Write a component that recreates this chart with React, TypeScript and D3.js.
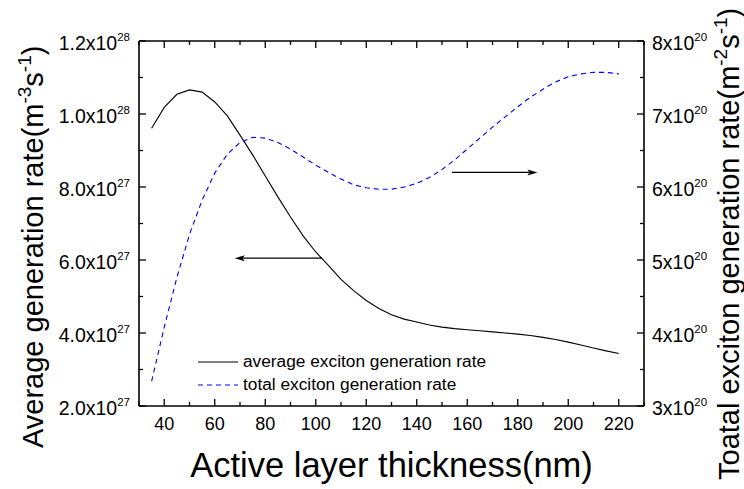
import React from "react";
import * as d3 from "d3";

const thickness = [35, 40, 45, 50, 55, 60, 65, 70, 75, 80, 85, 90, 95, 100, 105, 110, 115, 120, 125, 130, 135, 140, 145, 150, 155, 160, 165, 170, 175, 180, 185, 190, 195, 200, 205, 210, 215, 220];
// average exciton generation rate, units of 1e27 m^-3 s^-1
const avgRate = [9.61, 10.18, 10.54, 10.66, 10.6, 10.33, 9.95, 9.42, 8.88, 8.3, 7.73, 7.18, 6.66, 6.22, 5.85, 5.47, 5.16, 4.89, 4.67, 4.5, 4.38, 4.3, 4.22, 4.16, 4.12, 4.09, 4.06, 4.03, 4.0, 3.97, 3.93, 3.88, 3.82, 3.75, 3.67, 3.59, 3.51, 3.44];
// total exciton generation rate, units of 1e20 m^-2 s^-1
const totalRate = [3.34, 4.08, 4.76, 5.35, 5.82, 6.19, 6.45, 6.61, 6.68, 6.67, 6.61, 6.52, 6.41, 6.3, 6.2, 6.11, 6.03, 5.99, 5.97, 5.97, 6.0, 6.05, 6.13, 6.24, 6.37, 6.52, 6.67, 6.82, 6.96, 7.1, 7.23, 7.34, 7.44, 7.51, 7.55, 7.57, 7.57, 7.55];

const xDomain = [30, 230];
const xMajorTicks = [40, 60, 80, 100, 120, 140, 160, 180, 200, 220];
const xMinorTicks = [30, 50, 70, 90, 110, 130, 150, 170, 190, 210, 230];
const leftDomain = [2, 12];
const leftMajorTicks = [2, 4, 6, 8, 10, 12];
const leftMinorTicks = [3, 5, 7, 9, 11];
const leftTickLabels = ["2.0x10", "4.0x10", "6.0x10", "8.0x10", "1.0x10", "1.2x10"];
const leftTickExps = ["27", "27", "27", "27", "28", "28"];
const rightDomain = [3, 8];
const rightMajorTicks = [3, 4, 5, 6, 7, 8];
const rightMinorTicks = [3.5, 4.5, 5.5, 6.5, 7.5];
const rightTickLabels = ["3x10", "4x10", "5x10", "6x10", "7x10", "8x10"];
const rightTickExps = ["20", "20", "20", "20", "20", "20"];
const legendLabels = ["average exciton generation rate", "total exciton generation rate"];
// annotation arrows in data coordinates
const leftArrow = { from: 102.5, to: 67.9, y: 6.05 };
const rightArrow = { from: 153.9, to: 187.8, y: 6.2 };

const FONT = "'Liberation Sans', Arial, Helvetica, sans-serif";

export default function App() {
  const W = 744, H = 489;
  const L = 139, R = 644, T = 41, B = 406;
  const x = d3.scaleLinear().domain(xDomain).range([L, R]);
  const yL = d3.scaleLinear().domain(leftDomain).range([B, T]);
  const yR = d3.scaleLinear().domain(rightDomain).range([B, T]);

  const avgLine = d3.line<number>().x((_, i) => x(thickness[i])).y((d) => yL(d))(avgRate) || "";
  const totLine = d3.line<number>().x((_, i) => x(thickness[i])).y((d) => yR(d))(totalRate) || "";

  const MAJ = 7, MIN = 4;
  const axisW = 1.6;

  const arrowHead = (tipX: number, tipY: number, dir: number) => {
    const len = 10, hw = 3;
    return `M${tipX},${tipY} L${tipX - dir * len},${tipY - hw} L${tipX - dir * len * 0.8},${tipY} L${tipX - dir * len},${tipY + hw} Z`;
  };

  const la = { x1: x(leftArrow.from), x2: x(leftArrow.to), y: yL(leftArrow.y) };
  const ra = { x1: x(rightArrow.from), x2: x(rightArrow.to), y: yR(rightArrow.y) };

  return (
    <svg width={W} height={H} style={{ position: "absolute", left: 0, top: 0, background: "#fff" }} fontFamily={FONT}>
      <rect x={0} y={0} width={W} height={H} fill="#fff" />
      {/* curves */}
      <path d={avgLine} fill="none" stroke="#000" strokeWidth={1.1} />
      <path d={totLine} fill="none" stroke="#0000ff" strokeWidth={1.1} strokeDasharray="5,4" />

      {/* frame */}
      <g stroke="#000" strokeWidth={axisW} fill="none">
        <line x1={L} y1={B} x2={R} y2={B} />
        <line x1={L} y1={T} x2={R} y2={T} />
        <line x1={L} y1={T} x2={L} y2={B} />
        <line x1={R} y1={T} x2={R} y2={B} />
      </g>
      {/* x ticks bottom & top */}
      <g stroke="#000" strokeWidth={1.3}>
        {xMajorTicks.map((t) => (
          <g key={"xm" + t}>
            <line x1={x(t)} x2={x(t)} y1={B} y2={B - MAJ} />
            <line x1={x(t)} x2={x(t)} y1={T} y2={T + MAJ} />
          </g>
        ))}
        {xMinorTicks.map((t) => (
          <g key={"xn" + t}>
            <line x1={x(t)} x2={x(t)} y1={B} y2={B - MIN} />
            <line x1={x(t)} x2={x(t)} y1={T} y2={T + MIN} />
          </g>
        ))}
        {leftMajorTicks.map((t) => (
          <line key={"lm" + t} x1={L} x2={L + MAJ} y1={yL(t)} y2={yL(t)} />
        ))}
        {leftMinorTicks.map((t) => (
          <line key={"ln" + t} x1={L} x2={L + MIN} y1={yL(t)} y2={yL(t)} />
        ))}
        {rightMajorTicks.map((t) => (
          <line key={"rm" + t} x1={R} x2={R - MAJ} y1={yR(t)} y2={yR(t)} />
        ))}
        {rightMinorTicks.map((t) => (
          <line key={"rn" + t} x1={R} x2={R - MIN} y1={yR(t)} y2={yR(t)} />
        ))}
      </g>
      {/* x tick labels */}
      <g fontSize={18} fill="#000" textAnchor="middle">
        {xMajorTicks.map((t) => (
          <text key={"xl" + t} x={x(t)} y={B + 24}>{t}</text>
        ))}
      </g>
      {/* left tick labels */}
      <g fontSize={19.5} fill="#000" textAnchor="end">
        {leftMajorTicks.map((t, i) => (
          <text key={"ll" + t} x={L - 9} y={yL(t) + 9}>
            {leftTickLabels[i]}
            <tspan fontSize={11.5} dy={-9.5}>{leftTickExps[i]}</tspan>
          </text>
        ))}
      </g>
      {/* right tick labels */}
      <g fontSize={19.5} fill="#000" textAnchor="start">
        {rightMajorTicks.map((t, i) => (
          <text key={"rl" + t} x={R + 8} y={yR(t) + 9}>
            {rightTickLabels[i]}
            <tspan fontSize={11.5} dy={-9.5}>{rightTickExps[i]}</tspan>
          </text>
        ))}
      </g>

      {/* axis titles */}
      <text x={(L + R) / 2} y={477} fontSize={34.5} textAnchor="middle" fill="#000">Active layer thickness(nm)</text>
      <text transform={`translate(43,448) rotate(-90)`} fontSize={29} fill="#000">
        Average generation rate(m<tspan fontSize={19} dy={-12}>-3</tspan><tspan dy={12}>s</tspan><tspan fontSize={19} dy={-12}>-1</tspan><tspan dy={12}>)</tspan>
      </text>
      <text transform={`translate(739,480) rotate(-90)`} fontSize={29} fill="#000">
        Toatal exciton generation rate(m<tspan fontSize={19} dy={-12}>-2</tspan><tspan dy={12}>s</tspan><tspan fontSize={19} dy={-12}>-1</tspan><tspan dy={12}>)</tspan>
      </text>

      {/* legend */}
      <line x1={198} x2={238} y1={362} y2={362} stroke="#000" strokeWidth={1.1} />
      <text x={243} y={367} fontSize={17.3} fill="#000">{legendLabels[0]}</text>
      <line x1={198} x2={238} y1={385} y2={385} stroke="#0000ff" strokeWidth={1.1} strokeDasharray="5,4" />
      <text x={243} y={390} fontSize={17.3} fill="#000">{legendLabels[1]}</text>

      {/* arrows */}
      <line x1={la.x1} x2={la.x2 + 8} y1={la.y} y2={la.y} stroke="#000" strokeWidth={1.2} />
      <path d={arrowHead(la.x2, la.y, -1)} fill="#000" />
      <line x1={ra.x1} x2={ra.x2 - 8} y1={ra.y} y2={ra.y} stroke="#000" strokeWidth={1.2} />
      <path d={arrowHead(ra.x2, ra.y, 1)} fill="#000" />
    </svg>
  );
}
